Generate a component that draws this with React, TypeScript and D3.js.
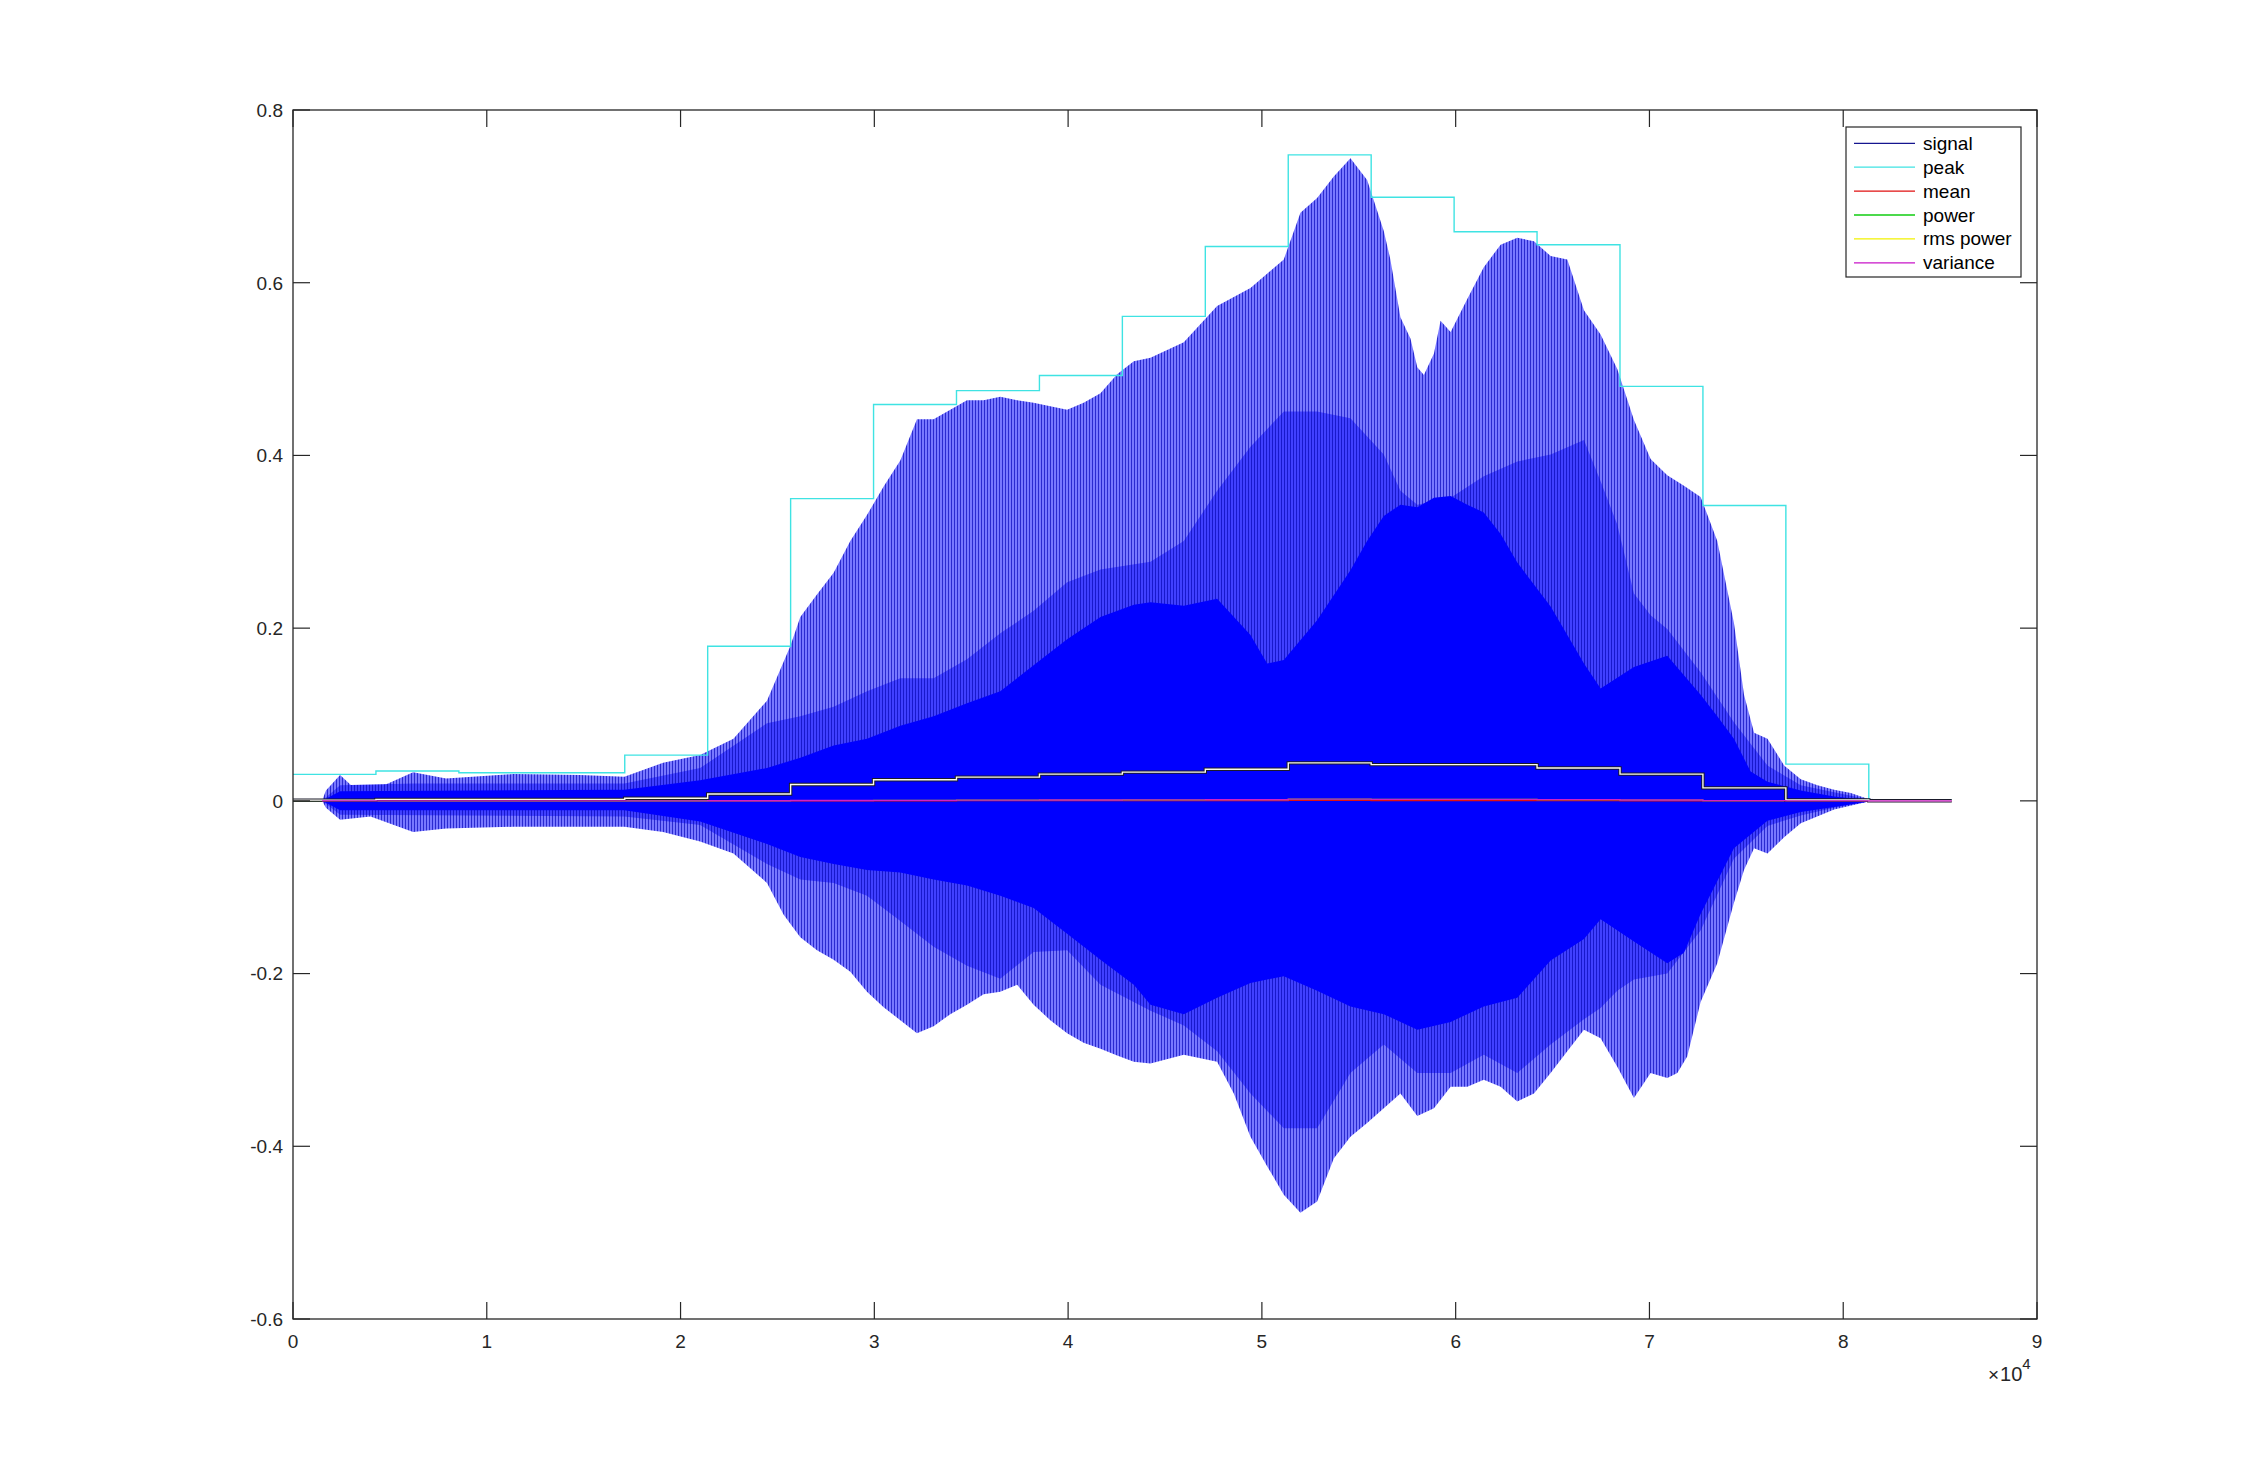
import React from 'react';
import * as d3 from 'd3';

// ---------- data ----------
const X_TICKS = [0, 1, 2, 3, 4, 5, 6, 7, 8, 9];
const X_TICK_LABELS = ['0', '1', '2', '3', '4', '5', '6', '7', '8', '9'];
const Y_TICKS = [-0.6, -0.4, -0.2, 0, 0.2, 0.4, 0.6, 0.8];
const Y_TICK_LABELS = ['-0.6', '-0.4', '-0.2', '0', '0.2', '0.4', '0.6', '0.8'];

const LEGEND_LABELS = ['signal', 'peak', 'mean', 'power', 'rms power', 'variance'];

// frame edges (samples)
const FRAME_EDGES = [0, 4280, 8560, 12840, 17120, 21400, 25680, 29960, 34240, 38520, 42800, 47080, 51360, 55640, 59920, 64200, 68480, 72760, 77040, 81320, 85600];
const PEAK = [0.0307, 0.0345, 0.0326, 0.0326, 0.053, 0.179, 0.35, 0.459, 0.475, 0.4925, 0.561, 0.642, 0.748, 0.699, 0.659, 0.644, 0.48, 0.342, 0.0425, 0.001];
const MEAN = [0, 0, 0, 0, 0, 0.0001, 0.0002, 0.0002, 0.0003, 0.0003, 0.0003, 0.0004, 0.0006, 0.0005, 0.0004, 0.0003, 0.0002, 0.0001, 0, 0];
const POWER = [0, 0, 0, 0, 0, 0.0001, 0.0004, 0.0006, 0.0008, 0.001, 0.0011, 0.0013, 0.0019, 0.0017, 0.0017, 0.0014, 0.001, 0.0002, 0, 0];
const RMS = [0.0009, 0.0017, 0.0017, 0.0017, 0.003, 0.008, 0.019, 0.0245, 0.0275, 0.031, 0.0333, 0.0366, 0.0440, 0.0420, 0.0420, 0.0380, 0.031, 0.0150, 0.0010, 0.0001];
const VARIANCE = [0, 0, 0, 0, 0, 0.0001, 0.0004, 0.0006, 0.0008, 0.001, 0.0011, 0.0013, 0.0019, 0.0017, 0.0017, 0.0014, 0.001, 0.0002, 0, 0];
const SIGNAL_START = 1500;

// signal envelopes: [sample, value]
const OUTER_TOP: [number, number][] = [
  [1500, 0], [1700, 0.012], [2430, 0.03], [3000, 0.018], [4500, 0.016], [6200, 0.033], [7900, 0.026],
  [11360, 0.031], [14800, 0.03], [17100, 0.028], [19100, 0.044], [21010, 0.053], [22730, 0.072],
  [24460, 0.116], [25660, 0.179], [26180, 0.213], [27040, 0.239], [27900, 0.264], [28760, 0.301],
  [29620, 0.331], [30480, 0.364], [31340, 0.394], [32200, 0.442], [33060, 0.442], [33920, 0.453],
  [34780, 0.464], [35640, 0.464], [36500, 0.468], [37370, 0.464], [38220, 0.461], [39080, 0.457],
  [39950, 0.453], [40800, 0.461], [41670, 0.472], [42530, 0.494], [43390, 0.509], [44250, 0.513],
  [45970, 0.531], [47690, 0.573], [49410, 0.594], [51130, 0.627], [51990, 0.681], [52850, 0.698],
  [53710, 0.723], [54570, 0.744], [55430, 0.719], [56290, 0.66], [56630, 0.627], [57150, 0.56],
  [57670, 0.535], [58020, 0.502], [58360, 0.493], [58880, 0.518], [59220, 0.556], [59740, 0.543],
  [60600, 0.581], [61450, 0.618], [62320, 0.644], [63180, 0.652], [64040, 0.648], [64900, 0.631],
  [65760, 0.627], [66620, 0.568], [67480, 0.54], [68340, 0.5], [69200, 0.441], [70060, 0.396],
  [70920, 0.377], [71780, 0.365], [72640, 0.352], [73500, 0.301], [74360, 0.206], [74880, 0.123],
  [75400, 0.079], [76090, 0.072], [76950, 0.041], [77810, 0.025], [78670, 0.018], [79530, 0.013],
  [80390, 0.009], [81250, 0.0025], [83000, 0.001], [85550, 0],
];
const OUTER_BOTTOM: [number, number][] = [
  [1500, 0], [1700, -0.008], [2430, -0.022], [4000, -0.018], [6200, -0.036], [7900, -0.032],
  [11360, -0.03], [14800, -0.03], [17100, -0.03], [19100, -0.036], [21010, -0.047], [22730, -0.061],
  [24460, -0.095], [25320, -0.132], [26180, -0.158], [27040, -0.173], [27900, -0.184], [28760, -0.198],
  [29620, -0.221], [30480, -0.239], [31340, -0.254], [32200, -0.269], [33060, -0.261], [33920, -0.247],
  [34780, -0.236], [35640, -0.224], [36500, -0.221], [37370, -0.213], [38220, -0.236], [39080, -0.254],
  [39950, -0.269], [40800, -0.28], [41670, -0.287], [42530, -0.295], [43390, -0.302], [44250, -0.304],
  [45970, -0.294], [47690, -0.302], [48550, -0.339], [49410, -0.389], [50270, -0.423], [51130, -0.456],
  [51990, -0.477], [52850, -0.464], [53710, -0.414], [54570, -0.389], [55430, -0.373], [56290, -0.356],
  [57150, -0.339], [58020, -0.365], [58880, -0.356], [59740, -0.331], [60600, -0.331], [61450, -0.323],
  [62320, -0.331], [63180, -0.348], [64040, -0.339], [64900, -0.315], [65760, -0.29], [66620, -0.265],
  [67480, -0.275], [68340, -0.308], [69200, -0.344], [70060, -0.315], [70920, -0.321], [71440, -0.315],
  [71950, -0.296], [72640, -0.233], [73500, -0.188], [74360, -0.118], [74880, -0.08], [75400, -0.055],
  [76090, -0.061], [76950, -0.042], [77810, -0.026], [79530, -0.01], [81250, -0.001], [85550, 0],
];
const MID_TOP: [number, number][] = [
  [1500, 0], [2430, 0.018], [6200, 0.02], [11360, 0.02], [17100, 0.02], [21010, 0.038], [24460, 0.09],
  [26180, 0.098], [27900, 0.109], [29620, 0.127], [31340, 0.142], [33060, 0.142], [34780, 0.164],
  [36500, 0.194], [38220, 0.22], [39950, 0.253], [41670, 0.268], [44250, 0.277], [45970, 0.301],
  [47690, 0.359], [49410, 0.41], [51130, 0.451], [52850, 0.451], [54570, 0.443], [56290, 0.401],
  [57150, 0.359], [58020, 0.343], [59740, 0.351], [61450, 0.376], [63180, 0.393], [64900, 0.401],
  [66620, 0.418], [67480, 0.37], [68340, 0.32], [69200, 0.24], [70060, 0.215], [70920, 0.199],
  [72640, 0.149], [74360, 0.091], [76090, 0.041], [77810, 0.018], [79530, 0.01], [81250, 0.002], [85550, 0],
];
const MID_BOTTOM: [number, number][] = [
  [1500, 0], [2430, -0.016], [17100, -0.018], [21010, -0.028], [24460, -0.073], [26180, -0.091],
  [27900, -0.095], [29620, -0.11], [31340, -0.139], [33060, -0.169], [34780, -0.191], [36500, -0.206],
  [38220, -0.175], [39950, -0.173], [41670, -0.213], [44250, -0.243], [45970, -0.26], [47690, -0.29],
  [49410, -0.339], [51130, -0.379], [52850, -0.379], [54570, -0.315], [56290, -0.282], [58020, -0.315],
  [59740, -0.315], [61450, -0.294], [63180, -0.315], [64900, -0.282], [66620, -0.253], [67480, -0.24],
  [68340, -0.22], [69200, -0.207], [70920, -0.2], [72640, -0.15], [74360, -0.067], [76090, -0.029],
  [77810, -0.017], [79530, -0.008], [81250, -0.001], [85550, 0],
];
const INNER_TOP: [number, number][] = [
  [1500, 0], [2430, 0.011], [17100, 0.013], [21010, 0.024], [24460, 0.038], [26180, 0.05], [27900, 0.064],
  [29620, 0.072], [31340, 0.087], [33060, 0.098], [34780, 0.113], [36500, 0.127], [38220, 0.157],
  [39950, 0.187], [41670, 0.213], [43390, 0.227], [44250, 0.23], [45970, 0.226], [47690, 0.234],
  [49410, 0.192], [50270, 0.159], [51130, 0.163], [52850, 0.209], [54570, 0.267], [55430, 0.301],
  [56290, 0.33], [57150, 0.343], [58020, 0.34], [58880, 0.351], [59740, 0.353], [60600, 0.343],
  [61450, 0.334], [62320, 0.309], [63180, 0.276], [64900, 0.225], [66620, 0.159], [67480, 0.13],
  [69200, 0.155], [70920, 0.168], [72640, 0.123], [73500, 0.098], [74360, 0.072], [75220, 0.034],
  [76090, 0.022], [77810, 0.012], [79530, 0.005], [81250, 0.001], [85550, 0],
];
const INNER_BOTTOM: [number, number][] = [
  [1500, 0], [2430, -0.011], [17100, -0.011], [21010, -0.024], [24460, -0.05], [26180, -0.065],
  [27900, -0.073], [29620, -0.08], [31340, -0.083], [33060, -0.091], [34780, -0.098], [36500, -0.11],
  [38220, -0.124], [39950, -0.154], [41670, -0.184], [43390, -0.213], [44250, -0.236], [45970, -0.247],
  [47690, -0.228], [49410, -0.211], [51130, -0.203], [52850, -0.22], [54570, -0.238], [56290, -0.247],
  [58020, -0.265], [59740, -0.256], [61450, -0.238], [63180, -0.228], [64900, -0.185], [66620, -0.16],
  [67480, -0.137], [69200, -0.163], [70920, -0.188], [71780, -0.176], [72640, -0.131], [74360, -0.055],
  [76090, -0.023], [77810, -0.013], [79530, -0.007], [81250, -0.001], [85550, 0],
];

// ---------- layout ----------
const W = 2252;
const H = 1483;
const L = 293, R = 2037, T = 110, B = 1319;
const FONT = '"Liberation Sans", Arial, Helvetica, sans-serif';
const AX = '#262626';

const x = d3.scaleLinear().domain([0, 90000]).range([L, R]);
const y = d3.scaleLinear().domain([-0.6, 0.8]).range([B, T]);

const line = d3.line<[number, number]>().x(d => x(d[0])).y(d => y(d[1]));
const stepLine = d3.line<[number, number]>().x(d => x(d[0])).y(d => y(d[1])).curve(d3.curveStepAfter);

function band(top: [number, number][], bot: [number, number][]) {
  const pts = [...top, ...bot.slice().reverse()];
  return (line(pts) || '') + 'Z';
}

function steps(vals: number[], start?: number) {
  const pts: [number, number][] = vals.map((v, i) => [i === 0 && start != null ? Math.max(start, FRAME_EDGES[i]) : FRAME_EDGES[i], v]);
  pts.push([FRAME_EDGES[vals.length], vals[vals.length - 1]]);
  return stepLine(pts) || '';
}

const LEGEND_COLORS = ['#15158f', '#3fe3e3', '#e01010', '#10cc10', '#f2f200', '#c814c8'];

export default function App() {
  const legendX = 1846, legendY = 127, legendW = 175, legendH = 150;
  const rowY0 = 143.3, rowStep = 23.9;
  return (
    <svg width={W} height={H} style={{ position: 'absolute', left: 0, top: 0, background: '#fff' }} fontFamily={FONT}>
      <defs>
        <clipPath id="plotClip">
          <rect x={L} y={T} width={R - L} height={B - T} />
        </clipPath>
        <pattern id="outerP" width={3} height={10} patternUnits="userSpaceOnUse">
          <rect width={3} height={10} fill="#7878ff" />
          <rect width={1} height={10} fill="#2a2ad0" />
        </pattern>
        <pattern id="midP" width={3} height={10} patternUnits="userSpaceOnUse">
          <rect width={3} height={10} fill="#4040ff" />
          <rect width={1} height={10} fill="#1818cc" />
        </pattern>
      </defs>
      <rect x={0} y={0} width={W} height={H} fill="#fff" />
      <g clipPath="url(#plotClip)">
        {/* signal */}
        <path d={band(OUTER_TOP, OUTER_BOTTOM)} fill="url(#outerP)" />
        <path d={band(MID_TOP, MID_BOTTOM)} fill="url(#midP)" />
        <path d={band(INNER_TOP, INNER_BOTTOM)} fill="#0000ff" />
        {/* peak */}
        <path d={steps(PEAK)} fill="none" stroke="#3fe3e3" strokeWidth={1.4} />
        {/* mean */}
        <path d={steps(MEAN)} fill="none" stroke="#e01010" strokeWidth={1.4} />
        {/* power */}
        <path d={steps(POWER)} fill="none" stroke="#10cc10" strokeWidth={1.2} />
        {/* rms power */}
        <path d={steps(RMS)} fill="none" stroke="#1a1a2a" strokeWidth={3.4} />
        <path d={steps(RMS)} fill="none" stroke="#fafaf0" strokeWidth={1.4} />
        {/* variance */}
        <path d={steps(VARIANCE, SIGNAL_START)} fill="none" stroke="#d020c8" strokeWidth={1.3} />
      </g>
      {/* axes box */}
      <rect x={L} y={T} width={R - L} height={B - T} fill="none" stroke={AX} strokeWidth={1.3} />
      {X_TICKS.map((t, i) => (
        <g key={'xt' + i}>
          <line x1={x(t * 10000)} x2={x(t * 10000)} y1={B} y2={B - 17} stroke={AX} strokeWidth={1.2} />
          <line x1={x(t * 10000)} x2={x(t * 10000)} y1={T} y2={T + 17} stroke={AX} strokeWidth={1.2} />
          <text x={x(t * 10000)} y={1348} textAnchor="middle" fontSize={19} fill={AX}>{X_TICK_LABELS[i]}</text>
        </g>
      ))}
      {Y_TICKS.map((t, i) => (
        <g key={'yt' + i}>
          <line x1={L} x2={L + 17} y1={y(t)} y2={y(t)} stroke={AX} strokeWidth={1.2} />
          <line x1={R} x2={R - 17} y1={y(t)} y2={y(t)} stroke={AX} strokeWidth={1.2} />
          <text x={283} y={y(t) + 6.8} textAnchor="end" fontSize={19} fill={AX}>{Y_TICK_LABELS[i]}</text>
        </g>
      ))}
      {/* exponent */}
      <text x={1988} y={1381} fontSize={20} fill={AX}>
        <tspan fontSize={19}>×</tspan>
        <tspan dx={1}>10</tspan>
        <tspan dy={-12} fontSize={15}>4</tspan>
      </text>
      {/* legend */}
      <rect x={legendX} y={legendY} width={legendW} height={legendH} fill="#fff" stroke={AX} strokeWidth={1.2} />
      {LEGEND_LABELS.map((lab, i) => {
        const ry = rowY0 + i * rowStep;
        return (
          <g key={'lg' + i}>
            <line x1={1854} x2={1915} y1={ry} y2={ry} stroke={LEGEND_COLORS[i]} strokeWidth={1.3} />
            <text x={1923} y={ry + 6.5} fontSize={19} fill="#000">{lab}</text>
          </g>
        );
      })}
    </svg>
  );
}
